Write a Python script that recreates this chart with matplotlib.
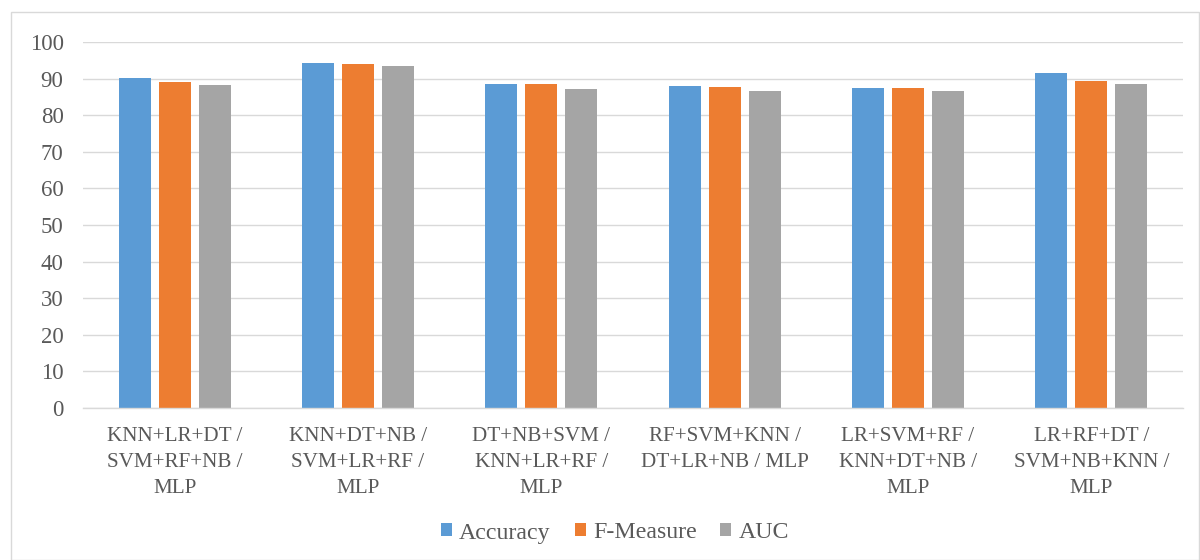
import matplotlib
matplotlib.use("Agg")
import matplotlib.pyplot as plt
import numpy as np
from matplotlib.patches import Rectangle

categories = [
    "KNN+LR+DT /\nSVM+RF+NB /\nMLP",
    "KNN+DT+NB /\nSVM+LR+RF /\nMLP",
    "DT+NB+SVM /\nKNN+LR+RF /\nMLP",
    "RF+SVM+KNN /\nDT+LR+NB / MLP",
    "LR+SVM+RF /\nKNN+DT+NB /\nMLP",
    "LR+RF+DT /\nSVM+NB+KNN /\nMLP",
]
accuracy = [90.2, 94.2, 88.5, 88.0, 87.5, 91.5]
f_measure = [89.1, 93.9, 88.5, 87.8, 87.3, 89.4]
auc = [88.3, 93.4, 87.2, 86.6, 86.6, 88.5]
series_names = ["Accuracy", "F-Measure", "AUC"]
colors = ["#5B9BD5", "#ED7D31", "#A5A5A5"]
yticks = list(range(0, 101, 10))

plt.rcParams['font.family'] = ['Liberation Serif', 'DejaVu Serif']
text_color = "#595959"

fig = plt.figure(figsize=(12, 5.6), dpi=100)
ax = fig.add_axes([83/1200, 1 - 408/560, 1100/1200, 366/560])

x = np.arange(len(categories))
w = 0.175
step = 0.218
for i, (vals, name, c) in enumerate(zip([accuracy, f_measure, auc], series_names, colors)):
    ax.bar(x + (i - 1) * step, vals, width=w, color=c, label=name, zorder=3)

ax.set_xlim(-0.5, len(categories) - 0.5)
ax.set_ylim(0, 100)
ax.set_yticks(yticks)
ax.set_yticklabels([str(t) for t in yticks], fontsize=16.5, color=text_color)
ax.set_xticks(x)
ax.set_xticklabels(categories, fontsize=15.2, color=text_color, linespacing=1.5)
ax.tick_params(axis='both', length=0)
ax.tick_params(axis='y', pad=14)
ax.tick_params(axis='x', pad=14)
ax.grid(axis='y', color='#D9D9D9', linewidth=1, zorder=0)
for s in ['top', 'right', 'left']:
    ax.spines[s].set_visible(False)
ax.spines['bottom'].set_color('#D9D9D9')
ax.spines['bottom'].set_linewidth(1)
ax.spines['bottom'].set_zorder(4)

leg = ax.legend(loc='center', bbox_to_anchor=((615 - 83) / 1100, (533 - 408) / -366.0), ncol=3,
                frameon=False, fontsize=17.2, handlelength=0.46, handleheight=0.46,
                handletextpad=0.3, columnspacing=1.0, borderaxespad=0, borderpad=0)
for t in leg.get_texts():
    t.set_color(text_color)

fig.patches.append(Rectangle((11/1200, 0), 1188/1200, 1 - 12/560, transform=fig.transFigure,
                             fill=False, edgecolor='#D9D9D9', linewidth=1))

fig.savefig("out.png", dpi=100, facecolor="white")
